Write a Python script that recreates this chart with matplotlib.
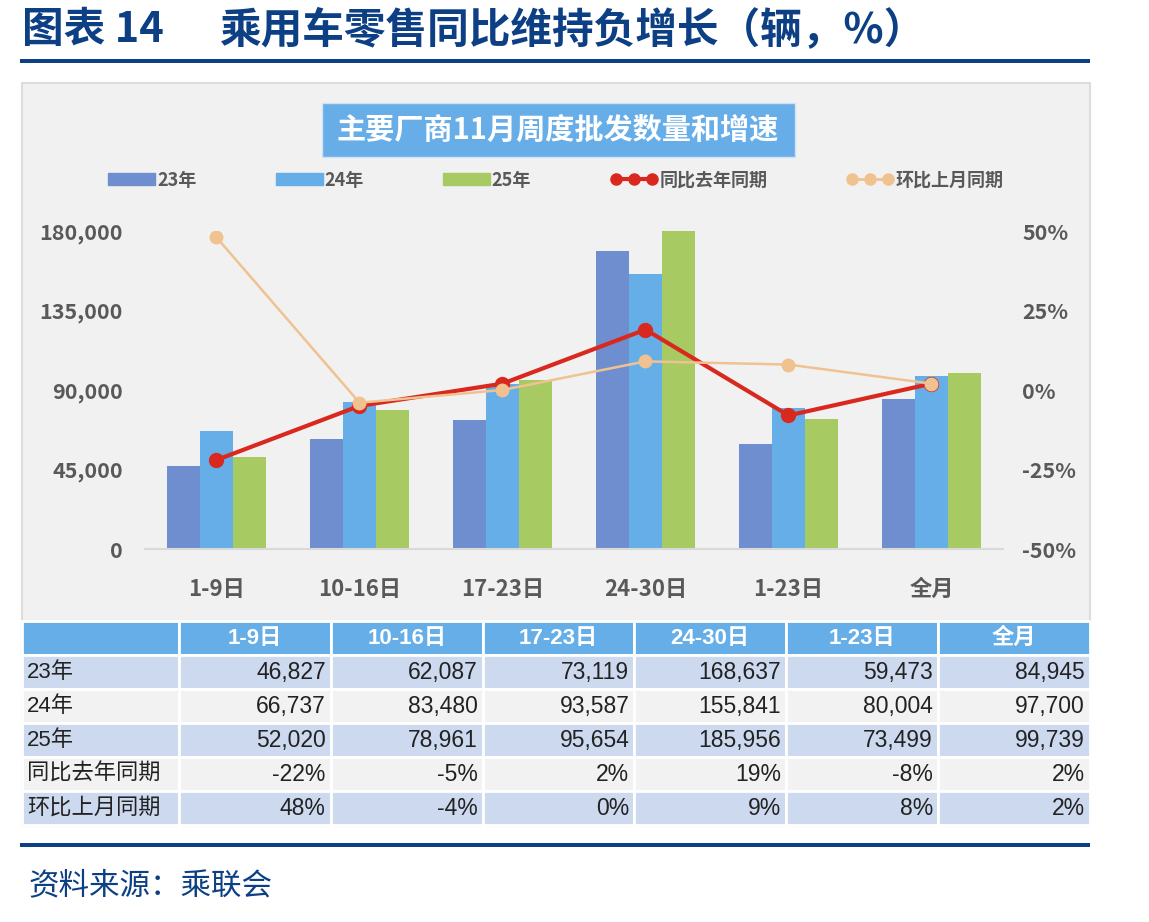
import numpy as np
import matplotlib
matplotlib.use('Agg')
import matplotlib.pyplot as plt
from matplotlib.patches import Rectangle, Patch
from matplotlib.lines import Line2D
from matplotlib.ticker import FuncFormatter, MultipleLocator

plt.rcParams['font.family'] = ['Noto Sans CJK SC', 'DejaVu Sans']

# data
periods = ['1-9日', '10-16日', '17-23日', '24-30日', '1-23日', '全月']
sales_23 = [46827, 62087, 73119, 168637, 59473, 84945]
sales_24 = [66737, 83480, 93587, 155841, 80004, 97700]
sales_25 = [52020, 78961, 95654, 185956, 73499, 99739]
yoy = [-22, -5, 2, 19, -8, 2]   # 同比去年同期 %
mom = [48, -4, 0, 9, 8, 2]      # 环比上月同期 %

W, H = 1149, 922
navy = '#0c3f84'
grey_txt = '#595959'
c23, c24, c25 = '#6f8ecf', '#65aee8', '#a7cb62'
c_yoy, c_mom = '#d9291f', '#efc290'

fig = plt.figure(figsize=(W / 100, H / 100), dpi=100)

# background layer in pixel coordinates
bg = fig.add_axes([0, 0, 1, 1], zorder=-5)
bg.set_xlim(0, W)
bg.set_ylim(H, 0)
bg.axis('off')

bg.text(22, 30, '图表 14', fontsize=30, fontweight='bold', color=navy, va='center', ha='left')
bg.text(220, 30, '乘用车零售同比维持负增长（辆，%）', fontsize=30, fontweight='bold',
        color=navy, va='center', ha='left')
bg.add_patch(Rectangle((20, 59), 1070, 4, color=navy, lw=0))
bg.add_patch(Rectangle((22, 83), 1068, 743, facecolor='#f1f1f1', edgecolor='#dcdcdc', lw=1.5))
bg.add_patch(Rectangle((322, 103), 473, 54, facecolor='#67aee8', edgecolor='#cfe3f5', lw=1))
bg.text(558, 130, '主要厂商11月周度批发数量和增速', fontsize=21, fontweight='bold',
        color='white', ha='center', va='center')
bg.add_patch(Rectangle((20, 843), 1070, 4, color=navy, lw=0))
bg.text(28, 886, '资料来源：乘联会', fontsize=22, color=navy, style='italic',
        ha='left', va='center')

# table
col_x = [22, 179] + [179 + 151.8 * (i + 1) for i in range(6)]
row_y = [621 + 34 * i for i in range(7)]
row_names = ['23年', '24年', '25年', '同比去年同期', '环比上月同期']
row_vals = [[f'{v:,}' for v in sales_23],
            [f'{v:,}' for v in sales_24],
            [f'{v:,}' for v in sales_25],
            [f'{v}%' for v in yoy],
            [f'{v}%' for v in mom]]
row_cols = ['#cdd9ef', '#f2f2f2', '#cdd9ef', '#f2f2f2', '#cdd9ef']
tfam = ['Liberation Sans', 'Noto Sans CJK SC']

for j in range(7):
    bg.add_patch(Rectangle((col_x[j], row_y[0]), col_x[j + 1] - col_x[j], 34,
                           facecolor='#65aee8', edgecolor='white', lw=2))
for j, p in enumerate(periods):
    bg.text((col_x[j + 1] + col_x[j + 2]) / 2, row_y[0] + 17, p, color='white',
            fontsize=16, fontweight='bold', ha='center', va='center', family=tfam)
for i, name in enumerate(row_names):
    y0 = row_y[i + 1]
    for j in range(7):
        bg.add_patch(Rectangle((col_x[j], y0), col_x[j + 1] - col_x[j], 34,
                               facecolor=row_cols[i], edgecolor='white', lw=2))
    bg.text(27, y0 + 17, name, fontsize=16, color='#222222', ha='left', va='center', family=tfam)
    for j, v in enumerate(row_vals[i]):
        bg.text(col_x[j + 2] - 5, y0 + 17, v, fontsize=16.5, color='#222222',
                ha='right', va='center', family=tfam)

# chart
ax = fig.add_axes([145 / W, 1 - 549 / H, 858 / W, 318 / H])
ax.patch.set_alpha(0)
x = np.arange(len(periods))
bw = 0.23
ax.bar(x - bw, sales_23, bw, color=c23, label='23年')
ax.bar(x, sales_24, bw, color=c24, label='24年')
ax.bar(x + bw, sales_25, bw, color=c25, label='25年')
ax.set_xlim(-0.5, 5.5)
ax.set_ylim(0, 180000)
ax.yaxis.set_major_locator(MultipleLocator(45000))
ax.yaxis.set_major_formatter(FuncFormatter(lambda v, p: f'{int(v):,}'))
ax.set_xticks(x)
ax.set_xticklabels(periods, fontsize=16, fontweight='bold', color=grey_txt)
for s in ['top', 'left', 'right']:
    ax.spines[s].set_visible(False)
ax.spines['bottom'].set_color('#d9d9d9')
ax.spines['bottom'].set_linewidth(1.5)
ax.tick_params(axis='both', length=0)
ax.tick_params(axis='x', pad=21)
ax.tick_params(axis='y', pad=16, labelsize=15.5, labelcolor=grey_txt)
for t in ax.get_yticklabels():
    t.set_fontweight('bold')

ax2 = ax.twinx()
ax2.plot(x, np.array(yoy) / 100, color=c_yoy, lw=3, marker='o', ms=10, zorder=3)
ax2.plot(x, np.array(mom) / 100, color=c_mom, lw=1.8, marker='o', ms=9, zorder=4)
ax2.set_ylim(-0.5, 0.5)
ax2.yaxis.set_major_locator(MultipleLocator(0.25))
ax2.yaxis.set_major_formatter(FuncFormatter(lambda v, p: f'{v * 100:.0f}%'))
for s in ['top', 'left', 'right', 'bottom']:
    ax2.spines[s].set_visible(False)
ax2.tick_params(axis='y', length=0, pad=14, labelsize=15.5, labelcolor=grey_txt)
for t in ax2.get_yticklabels():
    t.set_fontweight('bold')

handles = [Patch(color=c23), Patch(color=c24), Patch(color=c25),
           Line2D([], [], color=c_yoy, lw=3, marker='o', ms=8),
           Line2D([], [], color=c_mom, lw=2, marker='o', ms=8)]
labels = ['23年', '24年', '25年', '同比去年同期', '环比上月同期']
fig.legend(handles, labels, loc='center left', bbox_to_anchor=(92 / W, 1 - 180 / H),
           ncol=5, frameon=False, numpoints=3, handlelength=2.6, handleheight=0.6,
           handletextpad=0.1, columnspacing=4.4,
           prop={'size': 13, 'weight': 'bold'}, labelcolor=grey_txt)

fig.savefig('out.png', dpi=100)
